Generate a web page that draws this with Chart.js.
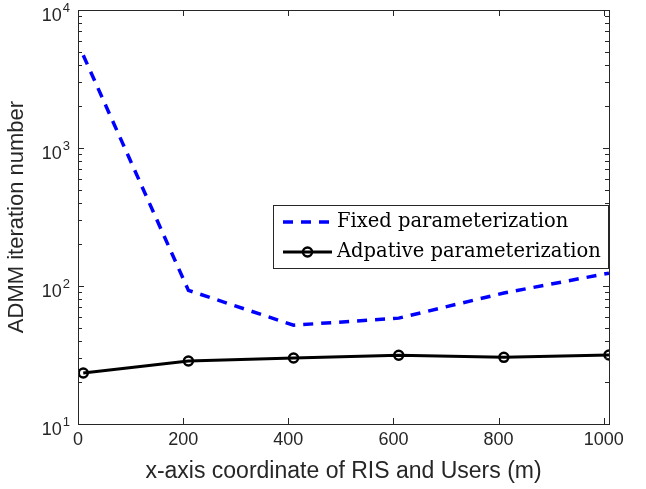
<!DOCTYPE html>
<html>
<head>
<meta charset="utf-8">
<script src="https://cdn.jsdelivr.net/npm/chart.js@4.4.0/dist/chart.umd.min.js"></script>
<style>
  html, body { margin: 0; padding: 0; background: #fff; }
  #wrap { width: 646px; height: 489px; }
</style>
</head>
<body>
<div id="wrap"><canvas id="myChart" width="646" height="489"></canvas></div>
<script>
// dados
const posicoes = [10, 210, 410, 610, 810, 1010];
const fixa = [4700, 93, 52, 58.5, 89, 124];
const adaptativa = [23.4, 28.6, 30.1, 31.5, 30.4, 31.6];
const ticksX = [0, 200, 400, 600, 800, 1000];
const ticksY = [10, 100, 1000, 10000];

const corEixo = '#262626';
const fonteEixo = '"Liberation Sans", Arial, sans-serif';
const fonteLegenda = '"DejaVu Serif", "Liberation Serif", serif';

// eixos estilo matlab: caixa, ticks para dentro, rotulos 10^n
const eixosMatlab = {
  id: 'eixosMatlab',
  afterDraw(chart) {
    const c = chart.ctx;
    const a = chart.chartArea;
    const sx = chart.scales.x;
    const sy = chart.scales.y;
    c.save();
    c.strokeStyle = corEixo;
    c.lineWidth = 1;
    c.strokeRect(a.left + 0.5, a.top + 0.5, a.right - a.left, a.bottom - a.top);

    c.beginPath();
    ticksX.forEach(v => {
      const px = Math.round(sx.getPixelForValue(v)) + 0.5;
      c.moveTo(px, a.bottom); c.lineTo(px, a.bottom - 6);
      c.moveTo(px, a.top); c.lineTo(px, a.top + 6);
    });
    for (let d = 10; d < 10000; d *= 10) {
      for (let k = 1; k < 10; k++) {
        const v = d * k;
        const py = Math.round(sy.getPixelForValue(v)) + 0.5;
        const len = k === 1 ? 6 : 4;
        c.moveTo(a.left, py); c.lineTo(a.left + len, py);
        c.moveTo(a.right, py); c.lineTo(a.right - len, py);
      }
    }
    c.stroke();

    // rotulos do eixo y
    c.fillStyle = corEixo;
    ticksY.forEach(v => {
      const py = sy.getPixelForValue(v);
      const exp = String(Math.round(Math.log10(v)));
      c.font = '13px ' + fonteEixo;
      const we = c.measureText(exp).width;
      c.textAlign = 'right';
      c.textBaseline = 'middle';
      c.fillText(exp, a.left - 8, py - 2);
      c.font = '18px ' + fonteEixo;
      c.fillText('10', a.left - 9 - we, py + 6);
    });

    // legenda
    const lx = a.left + 195, ly = a.top + 195, lw = 335, lh = 63;
    c.fillStyle = '#fff';
    c.fillRect(lx, ly, lw, lh);
    c.strokeStyle = '#262626';
    c.lineWidth = 1;
    c.strokeRect(lx + 0.5, ly + 0.5, lw, lh);
    const itens = chart.data.datasets;
    itens.forEach((ds, i) => {
      const yy = ly + 17 + i * 30;
      c.beginPath();
      c.strokeStyle = ds.borderColor;
      c.lineWidth = ds.borderWidth;
      c.setLineDash(ds.borderDash || []);
      c.moveTo(lx + 10, yy); c.lineTo(lx + 59, yy);
      c.stroke();
      c.setLineDash([]);
      if (ds.pointRadius > 0) {
        c.beginPath();
        c.lineWidth = ds.pointBorderWidth;
        c.arc(lx + 34.5, yy, ds.pointRadius, 0, Math.PI * 2);
        c.stroke();
      }
      c.fillStyle = '#000';
      c.font = '19.5px ' + fonteLegenda;
      c.textAlign = 'left';
      c.textBaseline = 'middle';
      c.fillText(ds.label, lx + 64, yy);
    });
    c.restore();
  }
};

const ctx = document.getElementById('myChart').getContext('2d');

const grafico = new Chart(ctx, {
  type: 'line',
  data: {
    datasets: [
      {
        label: 'Fixed parameterization',
        data: posicoes.map((x, i) => ({ x: x, y: fixa[i] })),
        borderColor: '#0000ff',
        borderWidth: 3.5,
        borderDash: [10, 8],
        pointRadius: 0,
        tension: 0
      },
      {
        label: 'Adpative parameterization',
        data: posicoes.map((x, i) => ({ x: x, y: adaptativa[i] })),
        borderColor: '#000000',
        borderWidth: 3,
        pointRadius: 4.5,
        pointBorderWidth: 2.5,
        pointBackgroundColor: 'rgba(0,0,0,0)',
        pointBorderColor: '#000000',
        tension: 0
      }
    ]
  },
  options: {
    responsive: false,
    animation: false,
    layout: { padding: { top: 10, right: 37, left: 0, bottom: 0 } },
    plugins: {
      legend: { display: false },
      tooltip: { enabled: false }
    },
    scales: {
      x: {
        type: 'linear',
        min: 0,
        max: 1010,
        afterBuildTicks: (s) => { s.ticks = ticksX.map(v => ({ value: v })); },
        afterFit: (s) => { s.height = 65; },
        grid: { display: false, drawTicks: false },
        border: { display: false },
        ticks: {
          color: corEixo,
          padding: 5,
          font: { family: fonteEixo, size: 18 },
          maxRotation: 0,
          callback: (v) => String(v)
        },
        title: {
          display: true,
          text: 'x-axis coordinate of RIS and Users (m)',
          color: corEixo,
          font: { family: fonteEixo, size: 23 },
          padding: { top: 0 }
        }
      },
      y: {
        type: 'logarithmic',
        min: 10,
        max: 10000,
        afterBuildTicks: (s) => { s.ticks = ticksY.map(v => ({ value: v })); },
        afterFit: (s) => { s.width = 78; },
        grid: { display: false, drawTicks: false },
        border: { display: false },
        ticks: { display: false },
        title: {
          display: true,
          text: 'ADMM iteration number',
          color: corEixo,
          font: { family: fonteEixo, size: 22 },
          padding: { top: 4, bottom: 0 }
        }
      }
    }
  },
  plugins: [eixosMatlab]
});
</script>
</body>
</html>
